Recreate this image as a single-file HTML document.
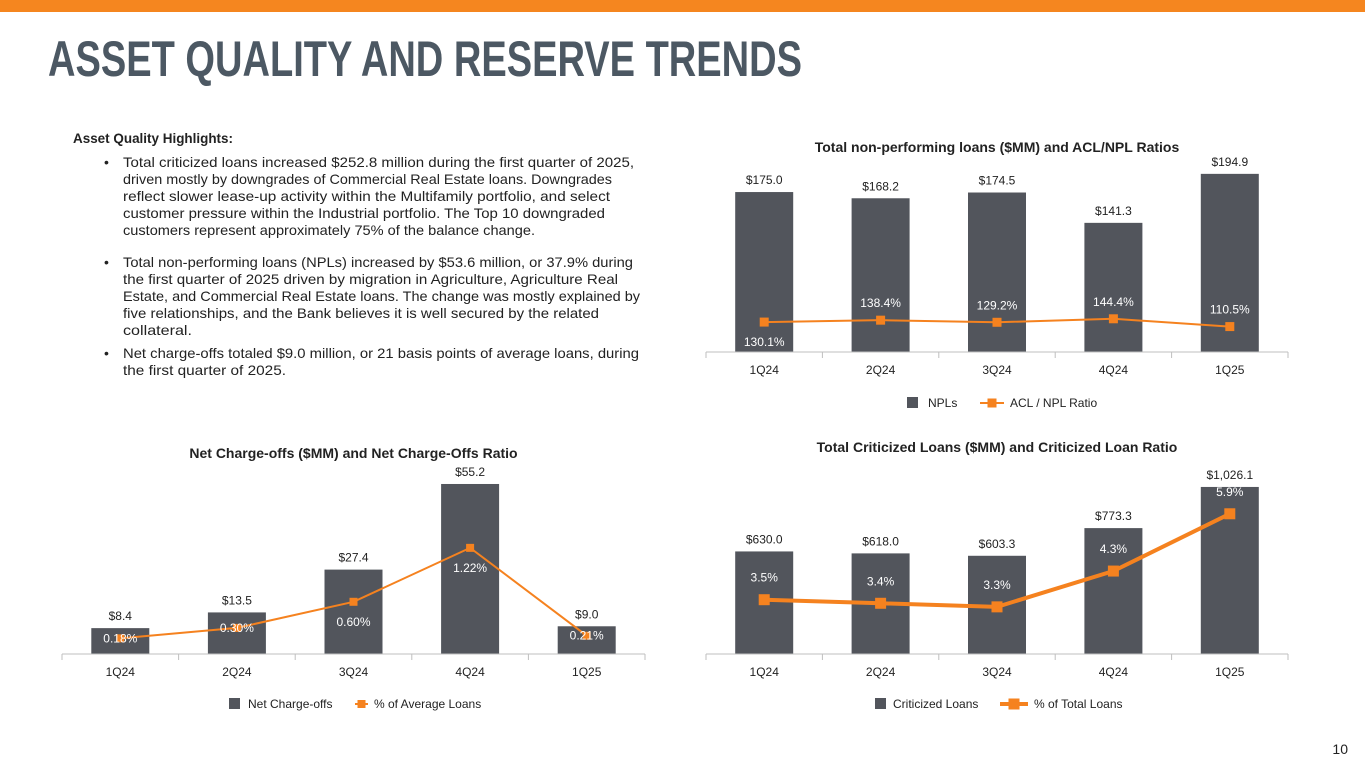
<!DOCTYPE html>
<html><head><meta charset="utf-8"><style>
html,body{margin:0;padding:0;background:#fff;}
svg{display:block;font-family:"Liberation Sans",sans-serif;}
</style></head><body>
<svg id="s" width="1365" height="768" viewBox="0 0 1365 768">
<rect x="0" y="0" width="1365" height="12" fill="#f5861f"/>
<text x="48" y="76" font-size="50" font-weight="bold" fill="#4c5863" textLength="754" lengthAdjust="spacingAndGlyphs">ASSET QUALITY AND RESERVE TRENDS</text>
<g id="para" font-size="14" fill="#222"></g>
<text x="1348" y="754" font-size="14" fill="#222" text-anchor="end">10</text>
</svg>
<script>
const NS="http://www.w3.org/2000/svg";
const svg=document.getElementById('s');
function el(tag,attrs,parent){const e=document.createElementNS(NS,tag);for(const k in attrs)e.setAttribute(k,attrs[k]);(parent||svg).appendChild(e);return e;}
function txt(x,y,s,attrs,parent){const t=el('text',Object.assign({x:x,y:y},attrs),parent);t.textContent=s;return t;}

const para=document.getElementById('para');
let h=txt(73,143,'Asset Quality Highlights:',{'font-weight':'bold',textLength:160,lengthAdjust:'spacingAndGlyphs'},para);


const lines=[
 [[1,'Total criticized loans increased $252.8 million during the first quarter of 2025,',511],[0,'driven mostly by downgrades of Commercial Real Estate loans. Downgrades',489],[0,'reflect slower lease-up activity within the Multifamily portfolio, and select',487],[0,'customer pressure within the Industrial portfolio. The Top 10 downgraded',482],[0,'customers represent approximately 75% of the balance change.',412]],
 [[1,'Total non-performing loans (NPLs) increased by $53.6 million, or 37.9% during',510],[0,'the first quarter of 2025 driven by migration in Agriculture, Agriculture Real',495],[0,'Estate, and Commercial Real Estate loans. The change was mostly explained by',517],[0,'five relationships, and the Bank believes it is well secured by the related',476],[0,'collateral.',69]],
 [[1,'Net charge-offs totaled $9.0 million, or 21 basis points of average loans, during',516],[0,'the first quarter of 2025.',163]]
];
const starts=[167,267,358];
lines.forEach((blk,bi)=>{blk.forEach((ln,li)=>{const y=starts[bi]+li*17;
 if(ln[0]){const b=txt(104,y,'•',{},para);}
 const t=txt(123,y,ln[1],{textLength:ln[2],lengthAdjust:'spacingAndGlyphs'},para);
 
 });});

const categories=['1Q24','2Q24','3Q24','4Q24','1Q25'];
const nplValues=[175.0,168.2,174.5,141.3,194.9];
const nplLabels=['$175.0','$168.2','$174.5','$141.3','$194.9'];
const aclRatio=[130.1,138.4,129.2,144.4,110.5];
const aclLabels=['130.1%','138.4%','129.2%','144.4%','110.5%'];
const ncoValues=[8.4,13.5,27.4,55.2,9.0];
const ncoLabels=['$8.4','$13.5','$27.4','$55.2','$9.0'];
const ncoRatio=[0.18,0.30,0.60,1.22,0.21];
const ncoRatioLabels=['0.18%','0.30%','0.60%','1.22%','0.21%'];
const critValues=[630.0,618.0,603.3,773.3,1026.1];
const critLabels=['$630.0','$618.0','$603.3','$773.3','$1,026.1'];
const critRatio=[3.5,3.4,3.3,4.3,5.9];
const critRatioLabels=['3.5%','3.4%','3.3%','4.3%','5.9%'];

function chart(o){
 const g=el('g',{});
 
 
 const step=(o.x1-o.x0)/categories.length;
 const xc=i=>o.x0+step*(i+0.5);
 const yb=v=>o.base-v*o.barScale;
 const yl=v=>o.lineZero-v*o.lineScale;
 const t=txt((o.x0+o.x1)/2,o.titleY,o.title,{'font-size':14,'font-weight':'bold',fill:'#222','text-anchor':'middle'},g);
 
 
 o.bars.forEach((v,i)=>{
  const r=el('rect',{x:xc(i)-29,y:yb(v),width:58,height:o.base-yb(v),fill:'#52555c'},g);
  
  
  const l=txt(xc(i),yb(v)-8,o.barLabels[i],{'font-size':12,fill:'#222','text-anchor':'middle'},g);
  
  
 });
 const ax=el('line',{x1:o.x0,y1:o.base,x2:o.x1,y2:o.base,stroke:'#bfbfbf','stroke-width':1},g);
 
 
 for(let i=0;i<=categories.length;i++){const tk=el('line',{x1:o.x0+step*i,y1:o.base,x2:o.x0+step*i,y2:o.base+6,stroke:'#bfbfbf'},g);
  
  }
 categories.forEach((c,i)=>{const l=txt(xc(i),o.base+22,c,{'font-size':12,fill:'#222','text-anchor':'middle'},g);
  
  });
 const pts=o.line.map((v,i)=>xc(i)+','+yl(v)).join(' ');
 const pl=el('polyline',{points:pts,fill:'none',stroke:'#f5821f','stroke-width':o.lw},g);
 
 
 o.line.forEach((v,i)=>{const m=o.mk;
  const r=el('rect',{x:xc(i)-m/2,y:yl(v)-m/2,width:m,height:m,fill:'#f5821f'},g);
  
  
  const l=txt(xc(i),yl(v)+o.lblOff[i],o.lineLabels[i],{'font-size':12,fill:'#fff','text-anchor':'middle'},g);
  
  });
 const L=o.leg;
 const sq=el('rect',{x:L.sq,y:L.y-6,width:11,height:11,fill:'#52555c'},g);
 
 
 const a=txt(L.tx,L.y+4,o.legBar,{'font-size':12,fill:'#222'},g);
 
 
 const ll=el('line',{x1:L.l0,y1:L.y,x2:L.l1,y2:L.y,stroke:'#f5821f','stroke-width':o.lw},g);
 
 
 const lm=el('rect',{x:(L.l0+L.l1)/2-o.mk/2,y:L.y-o.mk/2,width:o.mk,height:o.mk,fill:'#f5821f'},g);
 
 
 const b=txt(L.l1+6,L.y+4,o.legLine,{'font-size':12,fill:'#222'},g);
 
 
}

chart({name:'npl-chart',title:'Total non-performing loans ($MM) and ACL/NPL Ratios',titleY:152,x0:706,x1:1288,base:352,barScale:0.914,
 bars:nplValues,barLabels:nplLabels,line:aclRatio,lineLabels:aclLabels,lineZero:352,lineScale:0.23,lw:2,mk:9,
 lblOff:[24,-13,-13,-13,-13],leg:{y:403,sq:907,tx:928,l0:980,l1:1004},legBar:'NPLs',legLine:'ACL / NPL Ratio'});
chart({name:'net-charge-offs-chart',title:'Net Charge-offs ($MM) and Net Charge-Offs Ratio',titleY:458,x0:62,x1:645,base:654,barScale:3.08,
 bars:ncoValues,barLabels:ncoLabels,line:ncoRatio,lineLabels:ncoRatioLabels,lineZero:654,lineScale:87,lw:2,mk:8,
 lblOff:[4,4,24,24,4],leg:{y:704,sq:229,tx:248,l0:355,l1:368},legBar:'Net Charge-offs',legLine:'% of Average Loans'});
chart({name:'criticized-loans-chart',title:'Total Criticized Loans ($MM) and Criticized Loan Ratio',titleY:452,x0:706,x1:1288,base:654,barScale:0.1628,
 bars:critValues,barLabels:critLabels,line:critRatio,lineLabels:critRatioLabels,lineZero:725,lineScale:35.8,lw:4,mk:11,
 lblOff:[-18,-18,-18,-18,-18],leg:{y:704,sq:875,tx:893,l0:1000,l1:1028},legBar:'Criticized Loans',legLine:'% of Total Loans'});
</script>
</body></html>
